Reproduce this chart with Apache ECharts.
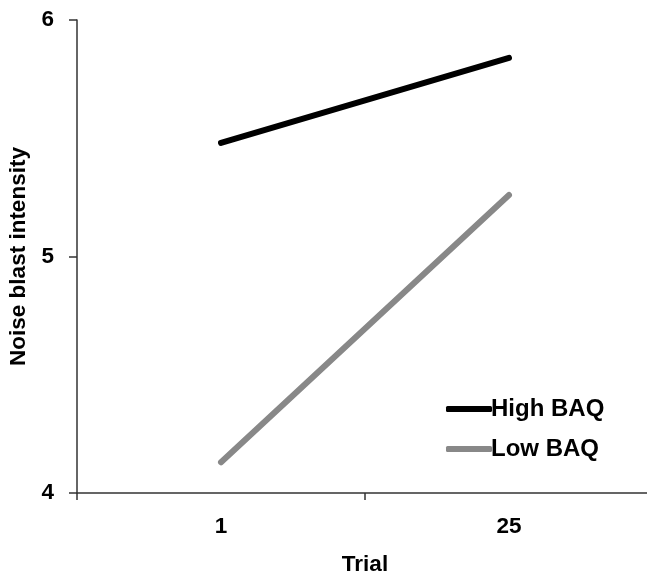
<!DOCTYPE html>
<html>
<head>
<meta charset="utf-8">
<script src="https://cdn.jsdelivr.net/npm/echarts@6/dist/echarts.min.js"></script>
<style>html,body{margin:0;padding:0;background:#fff}#c{width:647px;height:572px}</style>
</head>
<body>
<div id="c"></div>
<script>
var categories = ['1', '25'];
var highBAQ = [5.48, 5.84];
var lowBAQ = [4.13, 5.26];
var yTicks = [4, 5, 6];

var font = 'Liberation Sans, Arial, sans-serif';
var chart = echarts.init(document.getElementById('c'));
chart.setOption({
  animation: false,
  grid: { left: 77, top: 20, width: 576, height: 473, containLabel: false, outerBoundsMode: 'none' },
  legend: {
    orient: 'vertical', left: 441, top: 392, itemWidth: 46, itemHeight: 6, itemGap: 16,
    icon: 'roundRect',
    textStyle: { fontFamily: font, fontWeight: 'bold', fontSize: 24, color: '#000', padding: [0, 0, 0, -6] },
    data: ['High BAQ', 'Low BAQ']
  },
  xAxis: {
    type: 'category', data: categories, boundaryGap: true,
    name: 'Trial', nameLocation: 'middle', nameGap: 60,
    nameTextStyle: { fontFamily: font, fontWeight: 'bold', fontSize: 22.5, color: '#000' },
    axisLine: { lineStyle: { color: '#333', width: 1.5 } },
    axisTick: { show: true, length: 7, lineStyle: { color: '#333', width: 1.5 } },
    axisLabel: { fontFamily: font, fontWeight: 'bold', fontSize: 22.5, color: '#000', margin: 22 }
  },
  yAxis: {
    type: 'value', min: 4, max: 6, interval: 1,
    name: 'Noise blast intensity', nameLocation: 'middle', nameGap: 44,
    nameTextStyle: { fontFamily: font, fontWeight: 'bold', fontSize: 22.5, color: '#000' },
    axisLine: { show: true, lineStyle: { color: '#333', width: 1.5 } },
    axisTick: { show: true, length: 8, lineStyle: { color: '#333', width: 1.5 } },
    splitLine: { show: false },
    axisLabel: { fontFamily: font, fontWeight: 'bold', fontSize: 22.5, color: '#000', margin: 23,
      formatter: function (v) { return yTicks.indexOf(v) >= 0 ? String(v) : ''; } }
  },
  series: [
    { name: 'High BAQ', type: 'line', data: highBAQ, symbol: 'none',
      lineStyle: { color: '#000', width: 6, cap: 'round' }, itemStyle: { color: '#000' } },
    { name: 'Low BAQ', type: 'line', data: lowBAQ, symbol: 'none',
      lineStyle: { color: '#888', width: 6, cap: 'round' }, itemStyle: { color: '#888' } }
  ]
});
</script>
</body>
</html>
